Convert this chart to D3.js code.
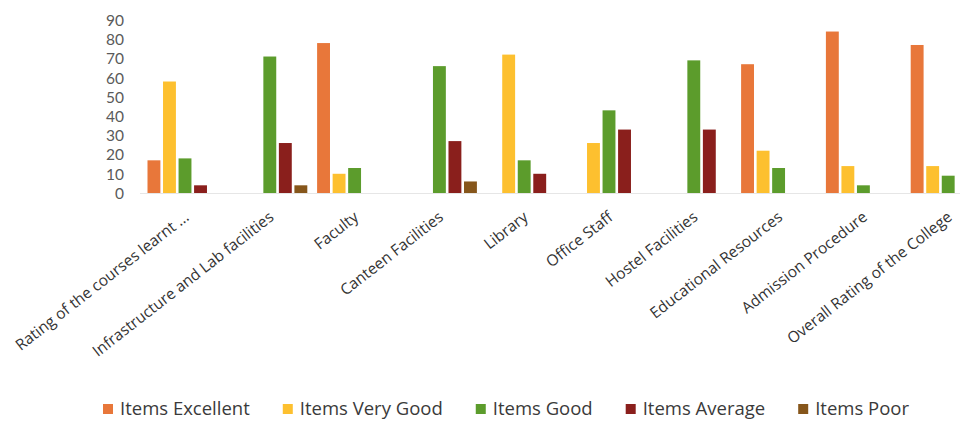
<!DOCTYPE html>
<html>
<head>
<meta charset="utf-8">
<script src="https://cdn.jsdelivr.net/npm/d3@7"></script>
<style>
  html, body { margin: 0; padding: 0; background: #fff; }
  svg { display: block; }
</style>
</head>
<body>
<svg id="chart" width="960" height="428"></svg>
<script>
const categories = [
  "Rating of the courses learnt ...",
  "Infrastructure and Lab facilities",
  "Faculty",
  "Canteen Facilities",
  "Library",
  "Office Staff",
  "Hostel Facilities",
  "Educational Resources",
  "Admission Procedure",
  "Overall Rating of the College"
];
const seriesNames = ["Items Excellent", "Items Very Good", "Items Good", "Items Average", "Items Poor"];
const excellent = [17, 0, 78, 0, 0, 0, 0, 67, 84, 77];
const veryGood  = [58, 0, 10, 0, 72, 26, 0, 22, 14, 14];
const good      = [18, 71, 13, 66, 17, 43, 69, 13, 4, 9];
const average   = [4, 26, 0, 27, 10, 33, 33, 0, 0, 0];
const poor      = [0, 4, 0, 6, 0, 0, 0, 0, 0, 0];
const yTicks = [0, 10, 20, 30, 40, 50, 60, 70, 80, 90];
const colors = ["#E8773A", "#FDC02F", "#5C9C2C", "#8A1F1C", "#86561B"];

const seriesValues = [excellent, veryGood, good, average, poor];
const rows = categories.map((c, i) => ({
  cat: c,
  vals: seriesNames.map((s, j) => ({ key: s, value: seriesValues[j][i], color: colors[j] }))
}));

const svg = d3.select("#chart");
const font = "'Open Sans', 'Liberation Sans', sans-serif";

const y = d3.scaleLinear().domain([0, 90]).range([193, 20]);
const x = d3.scaleBand().domain(categories).range([142.6, 990.6]).padding(0);
const xs = d3.scaleBand().domain(seriesNames)
  .range([(x.bandwidth() - 75) / 2, (x.bandwidth() + 75) / 2]).paddingInner(0.17).paddingOuter(0);

// y axis (labels only)
const yAxis = d3.axisLeft(y).tickValues(yTicks).tickSize(0).tickPadding(0);
const gy = svg.append("g").attr("transform", "translate(124,0)").call(yAxis);
gy.select(".domain").remove();
gy.selectAll("text")
  .attr("font-family", "Lato, 'Open Sans', sans-serif").attr("font-size", 15.5).attr("fill", "#5a5a5a")
  .attr("dy", "0.35em");

// baseline
svg.append("line")
  .attr("x1", 140).attr("x2", 960)
  .attr("y1", y(0) + 0.5).attr("y2", y(0) + 0.5)
  .attr("stroke", "#e6e6e6").attr("stroke-width", 1);

// bars
const groups = svg.append("g").selectAll("g").data(rows).join("g")
  .attr("transform", d => `translate(${x(d.cat)},0)`);
groups.selectAll("rect").data(d => d.vals.filter(v => v.value > 0)).join("rect")
  .attr("x", v => xs(v.key))
  .attr("width", xs.bandwidth())
  .attr("y", v => y(v.value))
  .attr("height", v => y(0) - y(v.value))
  .attr("fill", v => v.color);

// x axis labels
const xAxis = d3.axisBottom(x).tickSize(0).tickPadding(0);
const gx = svg.append("g").attr("transform", `translate(0,${y(0)})`).call(xAxis);
gx.select(".domain").remove();
gx.selectAll("text")
  .attr("font-family", font).attr("font-size", 15.5).attr("fill", "#333")
  .attr("text-anchor", "end")
  .attr("dy", 0).attr("y", 0)
  .attr("transform", "translate(5,26) rotate(-38)");

// legend
const legend = svg.append("g").attr("transform", "translate(103,409)");
let lx = 0;
seriesNames.forEach((s, i) => {
  const g = legend.append("g").attr("transform", `translate(${lx},0)`);
  g.append("rect").attr("x", 0).attr("y", -5).attr("width", 10).attr("height", 10).attr("fill", colors[i]);
  const t = g.append("text").attr("x", 17).attr("y", 0).attr("dy", "0.35em")
    .attr("font-family", font).attr("font-size", 18.5).attr("fill", "#3a3a3a").text(s);
  lx += 17 + t.node().getComputedTextLength() + 33;
});
</script>
</body>
</html>
